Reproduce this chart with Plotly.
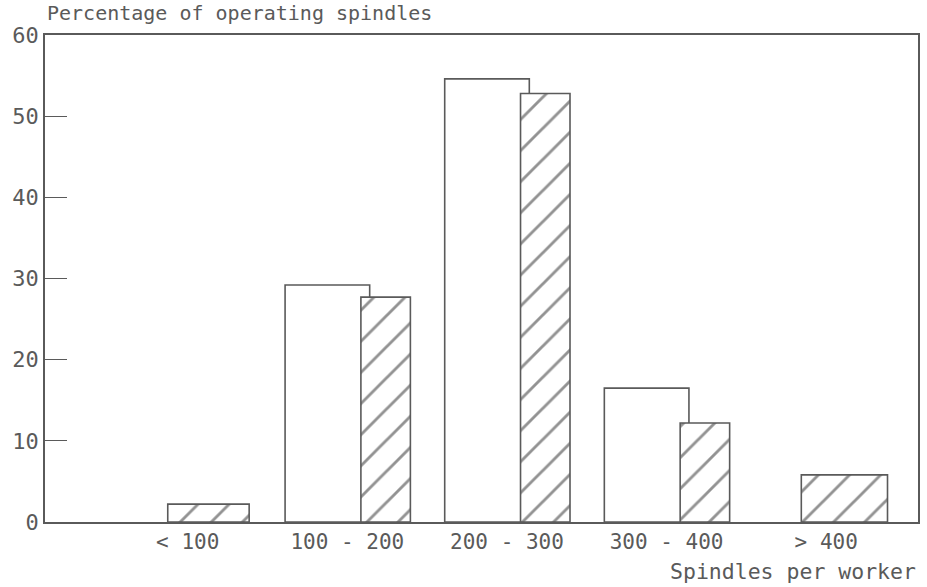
import plotly.graph_objects as go

# Spindles per worker, share of operating spindles (%)
categories = ["< 100", "100 - 200", "200 - 300", "300 - 400", "> 400"]
series_open = [0, 29.2, 54.6, 16.5, 0]
series_hatched = [2.2, 27.7, 52.8, 12.2, 5.8]
y_ticks = [0, 10, 20, 30, 40, 50, 60]

ink = "#5a5a5a"
font_main = "DejaVu Sans Mono, Liberation Mono, monospace"

idx = list(range(len(categories)))

fig = go.Figure()

# Open (unfilled) bars: only categories that have a value
open_x = [i for i, v in zip(idx, series_open) if v > 0]
open_y = [v for v in series_open if v > 0]
fig.add_trace(go.Bar(
    x=open_x, y=open_y,
    width=0.53, offset=-0.39,
    marker=dict(color="white", line=dict(color=ink, width=1.6)),
    showlegend=False,
))

# Hatched bars: wider where they stand alone
hatch_width = [0.51 if o == 0 else 0.31 for o in series_open]
hatch_offset = [-0.125 if o == 0 else 0.085 for o in series_open]
hatch_offset[-1] = -0.156
hatch_width[-1] = 0.54
fig.add_trace(go.Bar(
    x=idx, y=series_hatched,
    width=hatch_width, offset=hatch_offset,
    marker=dict(
        color="white",
        line=dict(color=ink, width=1.6),
        pattern=dict(shape="/", fgcolor="#262626", bgcolor="white",
                     size=22, solidity=0.13),
    ),
    showlegend=False,
))

fig.update_layout(
    width=927, height=587,
    margin=dict(l=45, r=7, t=35, b=65),
    paper_bgcolor="white", plot_bgcolor="white",
    font=dict(family=font_main, color=ink, size=21),
    barmode="overlay",
    xaxis=dict(
        range=[-0.894, 4.575],
        tickmode="array", tickvals=idx, ticktext=categories,
        showgrid=False, zeroline=False,
        showline=True, linecolor=ink, linewidth=1.6, mirror=True,
        ticks="", tickfont=dict(size=21, color=ink),
    ),
    yaxis=dict(
        range=[0, 60],
        tickmode="array", tickvals=y_ticks,
        showgrid=False, zeroline=False,
        showline=True, linecolor=ink, linewidth=1.6, mirror=True,
        ticks="inside", ticklen=22, tickcolor=ink, tickwidth=1.4,
        tickfont=dict(size=22, color=ink),
    ),
    annotations=[
        dict(text="Percentage of operating spindles", xref="paper", yref="paper",
             x=0.0, y=1.0, xanchor="left", yanchor="bottom", yshift=8,
             showarrow=False, font=dict(size=20, color=ink)),
        dict(text="Spindles per worker", xref="paper", yref="paper",
             x=1.0, y=0, xanchor="right", yanchor="top", yshift=-35,
             showarrow=False, font=dict(size=21.5, color=ink)),
    ],
)

fig.write_html("out.html")
